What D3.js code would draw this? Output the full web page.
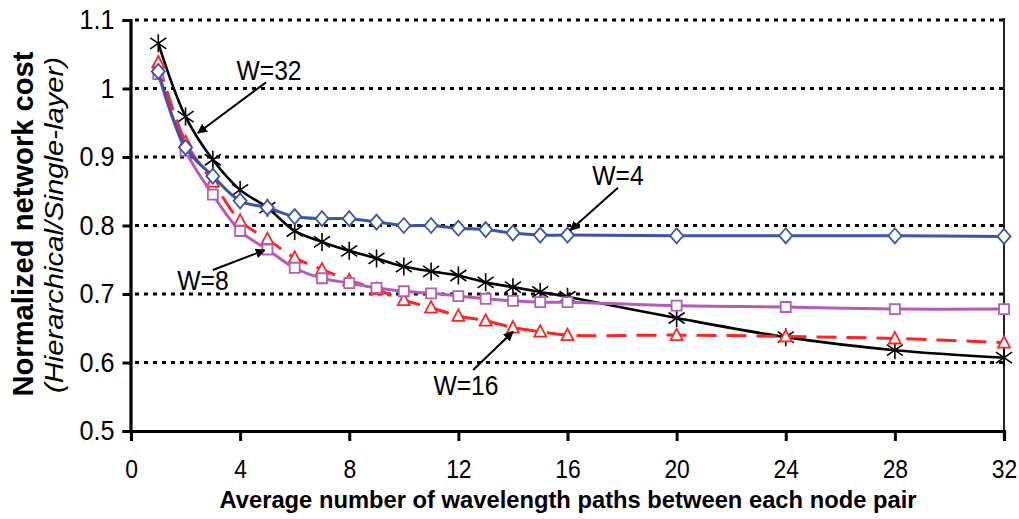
<!DOCTYPE html>
<html>
<head>
<meta charset="utf-8">
<script src="https://cdn.jsdelivr.net/npm/d3@7"></script>
<style>
  body { margin: 0; background: #fff; }
  svg { display: block; font-family: Arial, "Liberation Sans", sans-serif; }
  /* the reference text looks horizontally squeezed */
  .sq { transform-box: fill-box; transform-origin: 50% 50%; transform: scaleX(0.88); }
  .sq-end { transform-box: fill-box; transform-origin: 100% 50%; transform: scaleX(0.9); }
</style>
</head>
<body>
<svg id="chart" width="1019" height="519"></svg>
<script>
// x values (average number of wavelength paths)
const paths = [1, 2, 3, 4, 5, 6, 7, 8, 9, 10, 11, 12, 13, 14, 15, 16, 20, 24, 28, 32];

// normalized network cost, one list per wavelength count
const costW4  = [1.025, 0.914, 0.872, 0.836, 0.826, 0.813, 0.810, 0.810, 0.805, 0.800, 0.800, 0.796, 0.794, 0.789, 0.786, 0.786, 0.785, 0.785, 0.785, 0.784];
const costW8  = [1.021, 0.909, 0.845, 0.792, 0.765, 0.738, 0.723, 0.716, 0.709, 0.704, 0.701, 0.697, 0.693, 0.690, 0.688, 0.688, 0.683, 0.681, 0.678, 0.678];
const costW16 = [1.038, 0.922, 0.864, 0.807, 0.780, 0.753, 0.736, 0.720, 0.707, 0.691, 0.680, 0.668, 0.661, 0.651, 0.645, 0.640, 0.640, 0.638, 0.635, 0.629];
const costW32 = [1.066, 0.959, 0.896, 0.852, 0.826, 0.792, 0.776, 0.763, 0.752, 0.740, 0.733, 0.727, 0.717, 0.710, 0.703, 0.696, 0.665, 0.637, 0.618, 0.607];

const xTicks = [0, 4, 8, 12, 16, 20, 24, 28, 32];
const yTicks = [0.5, 0.6, 0.7, 0.8, 0.9, 1.0, 1.1];

// annotation labels (data units): text anchor, arrow start, arrow end
const labels = ['W=32', 'W=4', 'W=8', 'W=16'];
const labelPos = [[5.06, 1.012], [17.85, 0.859], [2.64, 0.706], [12.28, 0.553]];
const arrowFrom = [[4.95, 1.009], [17.85, 0.855], [3.0, 0.735], [12.54, 0.589]];
const arrowTo = [[2.45, 0.935], [16.1, 0.793], [4.9, 0.764], [14.0, 0.645]];

const svg = d3.select('#chart');
const margin = { top: 20, right: 15, bottom: 88, left: 131 };
const width = 1019 - margin.left - margin.right;
const height = 519 - margin.top - margin.bottom;

const x = d3.scaleLinear().domain([0, 32]).range([margin.left, margin.left + width]);
const y = d3.scaleLinear().domain([0.5, 1.1]).range([margin.top + height, margin.top]);

// dotted gridlines
svg.append('g')
  .selectAll('line')
  .data(yTicks.filter(d => d > 0.5))
  .enter()
  .append('line')
  .attr('x1', x(0) + 4)
  .attr('x2', x(32))
  .attr('y1', d => y(d))
  .attr('y2', d => y(d))
  .attr('stroke', '#000')
  .attr('stroke-width', 2.8)
  .attr('stroke-dasharray', '4,5');

// right border
svg.append('line')
  .attr('x1', x(32)).attr('x2', x(32))
  .attr('y1', y(1.1) - 2).attr('y2', y(0.5))
  .attr('stroke', '#222')
  .attr('stroke-width', 2);

// axes
const yAxis = svg.append('g')
  .attr('transform', `translate(${x(0) - 0.5},0)`)
  .call(d3.axisLeft(y).tickValues(yTicks).tickSizeOuter(0).tickSize(8).tickPadding(8)
    .tickFormat(d => String(+d.toFixed(1))));

const xAxis = svg.append('g')
  .attr('transform', `translate(0,${y(0.5)})`)
  .call(d3.axisBottom(x).tickValues(xTicks).tickSizeOuter(0).tickSize(10).tickPadding(19));

[yAxis, xAxis].forEach(g => {
  g.select('.domain').attr('stroke', '#000').attr('stroke-width', 3.2);
  g.selectAll('.tick line').attr('stroke', '#000').attr('stroke-width', 3);
  g.selectAll('.tick text').attr('fill', '#000').style('font-size', '28px');
});
yAxis.selectAll('.tick text').attr('class', 'sq-end');
xAxis.selectAll('.tick text').attr('class', 'sq').style('font-size', '26px');

// series
const curve = d3.curveCatmullRom.alpha(0.5);
const series = [
  { name: 'W=32', values: costW32, color: '#000', width: 2.6, dash: null, marker: 'star' },
  { name: 'W=16', values: costW16, color: '#ff2424', width: 3, dash: '20,10', marker: 'triangle' },
  { name: 'W=8', values: costW8, color: '#b45cb6', width: 3, dash: null, marker: 'square' },
  { name: 'W=4', values: costW4, color: '#3a55a8', width: 3, dash: null, marker: 'diamond' }
];

const markerPath = {
  star: 'M0,-9L0,9M-8,-5.5L8,5.5M-8,5.5L8,-5.5',
  triangle: 'M0,-6.5L6,5L-6,5Z',
  square: 'M-5,-5L5,-5L5,5L-5,5Z',
  diamond: 'M0,-7.5L6.5,0L0,7.5L-6.5,0Z'
};

const line = d3.line()
  .x(d => x(d[0]))
  .y(d => y(d[1]))
  .curve(curve);

series.forEach(s => {
  const pts = paths.map((p, i) => [p, s.values[i]]);
  const g = svg.append('g');
  g.append('path')
    .datum(pts)
    .attr('d', line)
    .attr('fill', 'none')
    .attr('stroke', s.color)
    .attr('stroke-width', s.width)
    .attr('stroke-dasharray', s.dash);
  g.selectAll('path.mk')
    .data(pts)
    .enter()
    .append('path')
    .attr('class', 'mk')
    .attr('transform', d => `translate(${x(d[0])},${y(d[1])})`)
    .attr('d', markerPath[s.marker])
    .attr('fill', s.marker === 'star' ? 'none' : '#fff')
    .attr('stroke', s.color)
    .attr('stroke-width', s.marker === 'star' ? 1.6 : 1.8);
});

// arrows + labels
svg.append('defs').append('marker')
  .attr('id', 'head')
  .attr('viewBox', '0 0 10 10')
  .attr('refX', 9).attr('refY', 5)
  .attr('markerWidth', 5).attr('markerHeight', 5)
  .attr('orient', 'auto')
  .append('path')
  .attr('d', 'M0,0L10,5L0,10Z')
  .attr('fill', '#000');

labels.forEach((t, i) => {
  svg.append('line')
    .attr('x1', x(arrowFrom[i][0])).attr('y1', y(arrowFrom[i][1]))
    .attr('x2', x(arrowTo[i][0])).attr('y2', y(arrowTo[i][1]))
    .attr('stroke', '#000')
    .attr('stroke-width', 2)
    .attr('marker-end', 'url(#head)');
  svg.append('text')
    .attr('class', 'sq')
    .attr('x', x(labelPos[i][0]))
    .attr('y', y(labelPos[i][1]))
    .attr('text-anchor', 'middle')
    .style('font-size', '28px')
    .text(t);
});

// axis titles
svg.append('text')
  .attr('x', 568)
  .attr('y', 508)
  .attr('text-anchor', 'middle')
  .attr('textLength', 697)
  .attr('lengthAdjust', 'spacingAndGlyphs')
  .style('font-size', '24px')
  .style('font-weight', 'bold')
  .text('Average number of wavelength paths between each node pair');

svg.append('text')
  .attr('transform', 'translate(33,224) rotate(-90)')
  .attr('text-anchor', 'middle')
  .attr('textLength', 345)
  .attr('lengthAdjust', 'spacingAndGlyphs')
  .style('font-size', '30px')
  .style('font-weight', 'bold')
  .text('Normalized network cost');

svg.append('text')
  .attr('transform', 'translate(63,225) rotate(-90)')
  .attr('text-anchor', 'middle')
  .attr('textLength', 336)
  .attr('lengthAdjust', 'spacingAndGlyphs')
  .style('font-size', '25px')
  .style('font-style', 'italic')
  .text('(Hierarchical/Single-layer)');
</script>
</body>
</html>
